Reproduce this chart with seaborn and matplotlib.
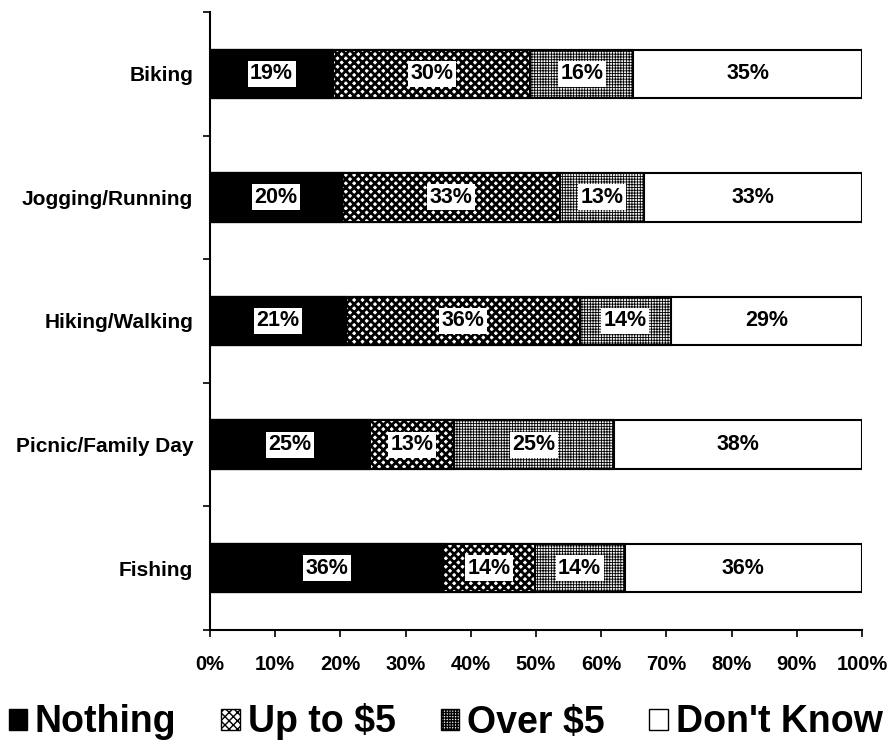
import matplotlib
matplotlib.use("Agg")
import matplotlib.pyplot as plt
import seaborn as sns
import pandas as pd
import numpy as np
from matplotlib.patches import Patch

sns.set_theme(style="white")
plt.rcParams['font.family'] = ['Liberation Sans', 'DejaVu Sans']
plt.rcParams['hatch.linewidth'] = 1.0
for k in ['text.color', 'axes.labelcolor', 'xtick.color', 'ytick.color']:
    plt.rcParams[k] = 'black'

activities = ["Biking", "Jogging/Running", "Hiking/Walking", "Picnic/Family Day", "Fishing"]
nothing = [18.9, 20.3, 20.9, 24.6, 35.8]
up_to_5 = [30.2, 33.4, 35.8, 12.8, 14.0]
over_5 = [15.8, 12.9, 14.0, 24.6, 13.8]
dont_know = [35.1, 33.4, 29.3, 38.0, 36.4]
series_names = ["Nothing", "Up to $5", "Over $5", "Don't Know"]
x_ticks = [0, 10, 20, 30, 40, 50, 60, 70, 80, 90, 100]

series = [nothing, up_to_5, over_5, dont_know]
styles = [
    dict(fc="black", hatch=None, hc="black", hlw=1.0),
    dict(fc="white", hatch="xxxx", hc="black", hlw=2.0),
    dict(fc="#f2f2f2", hatch="++++++", hc="#8c8c8c", hlw=0.6),
    dict(fc="white", hatch=None, hc="black", hlw=1.0),
]

cum = np.zeros(len(activities))
cums = []
for s in series:
    cum = cum + np.array(s)
    cums.append(cum.copy())

fig = plt.figure(figsize=(8.91, 7.55), dpi=100)
ax = fig.add_axes([210/891, 1-630/755, 652/891, 618/755])

for i in reversed(range(len(series))):
    d = pd.DataFrame({"activity": activities, "val": cums[i]})
    sns.barplot(data=d, y="activity", x="val", orient="h", ax=ax,
                color=styles[i]["fc"], width=0.39, saturation=1,
                edgecolor="black", linewidth=1.5)
    n = len(activities)
    for p in ax.patches[-n:]:
        p.set_facecolor(styles[i]["fc"])
        if styles[i]["hatch"]:
            p.set_hatch(styles[i]["hatch"])
            p._hatch_color = matplotlib.colors.to_rgba(styles[i]["hc"])
            if hasattr(p, "set_hatch_linewidth"):
                p.set_hatch_linewidth(styles[i]["hlw"])
        p.set_edgecolor("black")

for j in range(len(activities)):
    left = 0
    for i, s in enumerate(series):
        v = s[j]
        ax.text(left + v/2, j, f"{round(v)}%", ha="center", va="center",
                fontsize=15.5, fontweight="bold", color="black",
                bbox=dict(boxstyle="square,pad=0.12", fc="white", ec="none"),
                zorder=5)
        left += v

ax.set_xlim(0, 100)
ax.set_ylim(4.5, -0.5)
ax.set_xticks(x_ticks)
ax.set_xticklabels([f"{t}%" for t in x_ticks], fontsize=14.5, fontweight="bold")
ax.set_yticks(range(len(activities)))
ax.set_yticklabels(activities, fontsize=15, fontweight="bold")
ax.tick_params(axis="y", length=0, pad=12)
ax.set_xlabel("")
ax.set_ylabel("")
ax.set_yticks(np.arange(-0.5, len(activities), 1), minor=True)
ax.tick_params(axis="y", which="minor", length=5, width=1.2, direction="out", left=True)
ax.tick_params(axis="x", length=5, width=1.2, direction="out", bottom=True, pad=13)
for sp in ["top", "right"]:
    ax.spines[sp].set_visible(False)
for sp in ["left", "bottom"]:
    ax.spines[sp].set_color("black")
    ax.spines[sp].set_linewidth(1.5)

handles = []
for i, name in enumerate(series_names):
    h = Patch(facecolor=styles[i]["fc"], edgecolor="black",
              hatch=styles[i]["hatch"], label=name)
    handles.append(h)
leg = fig.legend(handles=handles, loc="center", bbox_to_anchor=(0.5, 1-722/755),
                 ncol=4, frameon=False, prop=dict(size=27, weight="bold"),
                 handlelength=0.5, handleheight=0.5, handletextpad=0.2,
                 columnspacing=1.2, borderpad=0.1, borderaxespad=0)

fig.savefig("out.png", dpi=100)
